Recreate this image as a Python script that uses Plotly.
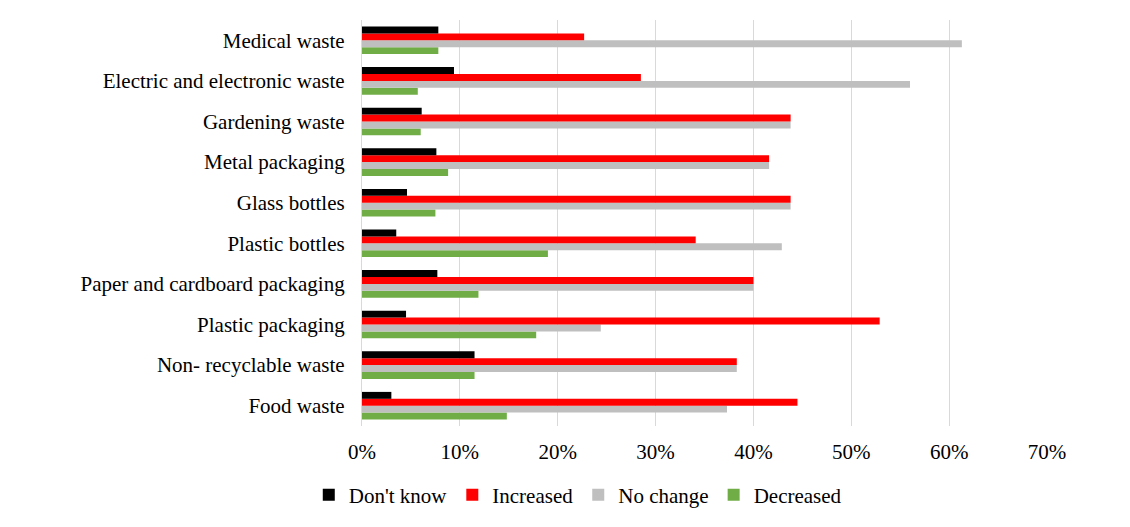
import plotly.graph_objects as go

categories = ["Food waste", "Non- recyclable waste", "Plastic packaging",
              "Paper and cardboard packaging", "Plastic bottles", "Glass bottles",
              "Metal packaging", "Gardening waste", "Electric and electronic waste",
              "Medical waste"]

dont_know = [3.0, 11.5, 4.5, 7.7, 3.5, 4.6, 7.6, 6.1, 9.4, 7.8]
increased = [44.5, 38.3, 52.9, 40.0, 34.1, 43.8, 41.6, 43.8, 28.5, 22.7]
no_change = [37.3, 38.3, 24.4, 40.0, 42.9, 43.8, 41.6, 43.8, 56.0, 61.3]
decreased = [14.8, 11.5, 17.8, 11.9, 19.0, 7.5, 8.8, 6.0, 5.7, 7.8]

series = [
    ("Decreased", decreased, "#70AD47"),
    ("No change", no_change, "#BFBFBF"),
    ("Increased", increased, "#FF0000"),
    ("Don't know", dont_know, "#000000"),
]

fig = go.Figure()
for name, vals, color in series:
    fig.add_trace(go.Bar(
        y=categories, x=[v / 100 for v in vals], name=name, orientation="h",
        marker=dict(color=color, line=dict(width=0)),
    ))

font = "Liberation Serif, Times New Roman, serif"
fig.update_layout(
    width=1122, height=519,
    margin=dict(l=354, r=83, t=12, b=99),
    paper_bgcolor="white", plot_bgcolor="white",
    barmode="group", bargap=0.32, bargroupgap=0,
    font=dict(family=font, size=21, color="#000000"),
    showlegend=True,
    legend=dict(orientation="h", traceorder="reversed", x=0.315, xanchor="center",
                y=-0.17, yanchor="middle", font=dict(size=21, family=font),
                itemwidth=30),
    xaxis=dict(range=[0, 0.7], dtick=0.1, tickformat=".0%", showgrid=True,
               gridcolor="#D9D9D9", gridwidth=1.3, zeroline=False, showline=False,
               ticks="", tickfont=dict(size=21, family=font), ticklabelstandoff=11),
    yaxis=dict(showgrid=False, showline=True, linecolor="#D9D9D9", linewidth=1.3,
               ticks="", tickfont=dict(size=21, family=font), ticklabelstandoff=12),
)

fig.write_html("out.html")
